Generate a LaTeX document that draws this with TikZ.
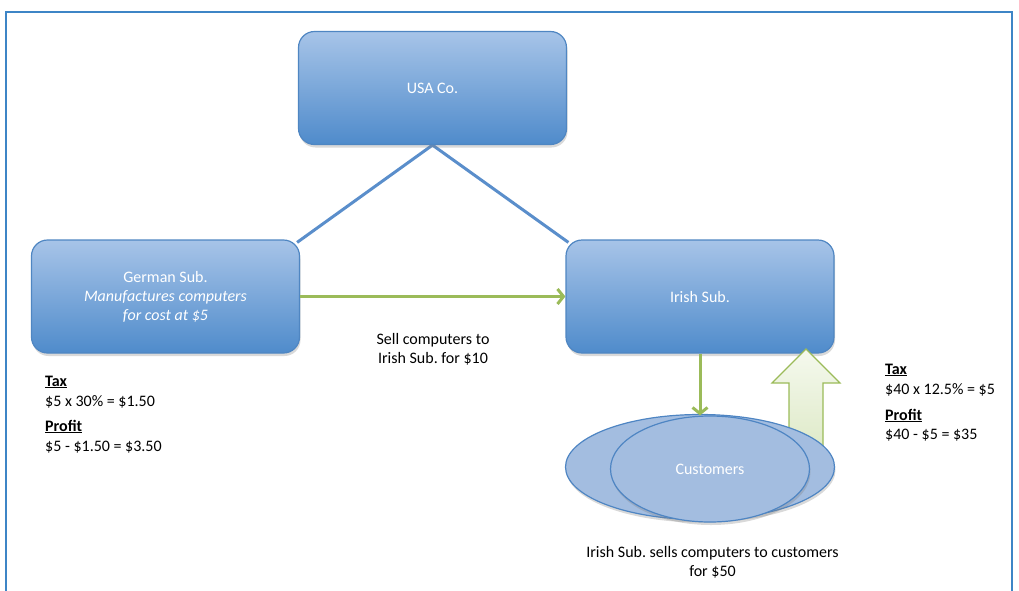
\documentclass[tikz,border=0pt]{standalone}
\usepackage{fontspec}
\setmainfont{Carlito}
\usetikzlibrary{arrows.meta,shadows,backgrounds,shapes.geometric}
\definecolor{frameblue}{HTML}{3D85C6}
\definecolor{boxtop}{HTML}{A7C4E8}
\definecolor{boxbot}{HTML}{4F8BCB}
\definecolor{boxline}{HTML}{4F86C2}
\definecolor{linkblue}{HTML}{5A8ECB}
\definecolor{arrgreen}{HTML}{9BBB59}
\definecolor{ellfill}{HTML}{A3BDE0}
\definecolor{ellline}{HTML}{4E85C3}
\definecolor{blocktop}{HTML}{F5F9EE}
\definecolor{blockbot}{HTML}{DDE9C6}
\frenchspacing
\begin{document}
\begin{tikzpicture}[x=1pt,y=-1pt,
  font=\fontsize{16}{19}\selectfont,
  entity/.style={rectangle, rounded corners=16pt, draw=boxline, line width=1.2pt,
    top color=boxtop, bottom color=boxbot, text=white, align=center,
    minimum width=268pt, minimum height=113pt, inner sep=0pt,
    drop shadow={opacity=0.3, shadow xshift=1pt, shadow yshift=-3pt}},
  link/.style={draw=linkblue, line width=3pt},
  flow/.style={draw=arrgreen, line width=3pt, -{Straight Barb[length=6pt,width=15pt,line width=3pt]}},
  custell/.style={ellipse, draw=ellline, line width=1.2pt, fill=ellfill, inner sep=0pt,
    drop shadow={opacity=0.3, shadow xshift=1pt, shadow yshift=-3pt}},
  note/.style={anchor=base west, inner sep=0pt},
  label/.style={anchor=base, inner sep=0pt}]
\useasboundingbox (0,0) rectangle (1019,590);
\draw[frameblue, line width=2.5pt] (6,12) rectangle (1012,610);

\node[entity] (usa) at (432.5,88) {USA Co.};
\node[entity] (german) at (165.5,296.5) {German Sub.\\[0pt] \textit{Manufactures computers}\\ \textit{for cost at \$5}};
\node[entity] (irish) at (700,296.5) {Irish Sub.};

\begin{scope}[on background layer]
\draw[link] (usa.south) -- ([xshift=-3pt,yshift=-3pt]german.north east);
\draw[link] (usa.south) -- ([xshift=3pt,yshift=-3pt]irish.north west);
\end{scope}

\draw[flow] (german.east) -- (irish.west);
\node[label] (sell1) at (433,344) {Sell computers to};
\node[label] (sell2) at (433,363) {Irish Sub. for \$10};

% block arrow (money back up)
\coordinate (bt) at (806,349);
\draw[arrgreen, line width=1.2pt, top color=blocktop, bottom color=blockbot]
  (789,455) -- (789,383) -- (772,383) -- (bt) -- (840,383) -- (823,383) -- (823,455) -- cycle;

\node[custell, minimum width=269pt, minimum height=105pt] (custback) at (700,467) {};
\node[custell, minimum width=199pt, minimum height=106pt, text=white] (cust) at (710,469) {Customers};

\draw[flow] (irish.south) -- (irish.south |- cust.north);

\node[label] (irl1) at (712.5,557) {Irish Sub. sells computers to customers};
\node[label] (irl2) at (712.5,576) {for \$50};

\node[note] (gt1) at (45,386) {\underline{\textbf{Tax}}};
\node[note] (gt2) at (45,406) {\$5 x 30\% = \$1.50};
\node[note] (gt3) at (45,431) {\underline{\textbf{Profit}}};
\node[note] (gt4) at (45,451) {\$5 - \$1.50 = \$3.50};

\node[note] (it1) at (885,374) {\underline{\textbf{Tax}}};
\node[note] (it2) at (885,394) {\$40 x 12.5\% = \$5};
\node[note] (it3) at (885,420) {\underline{\textbf{Profit}}};
\node[note] (it4) at (885,439) {\$40 - \$5 = \$35};
\end{tikzpicture}
\end{document}
